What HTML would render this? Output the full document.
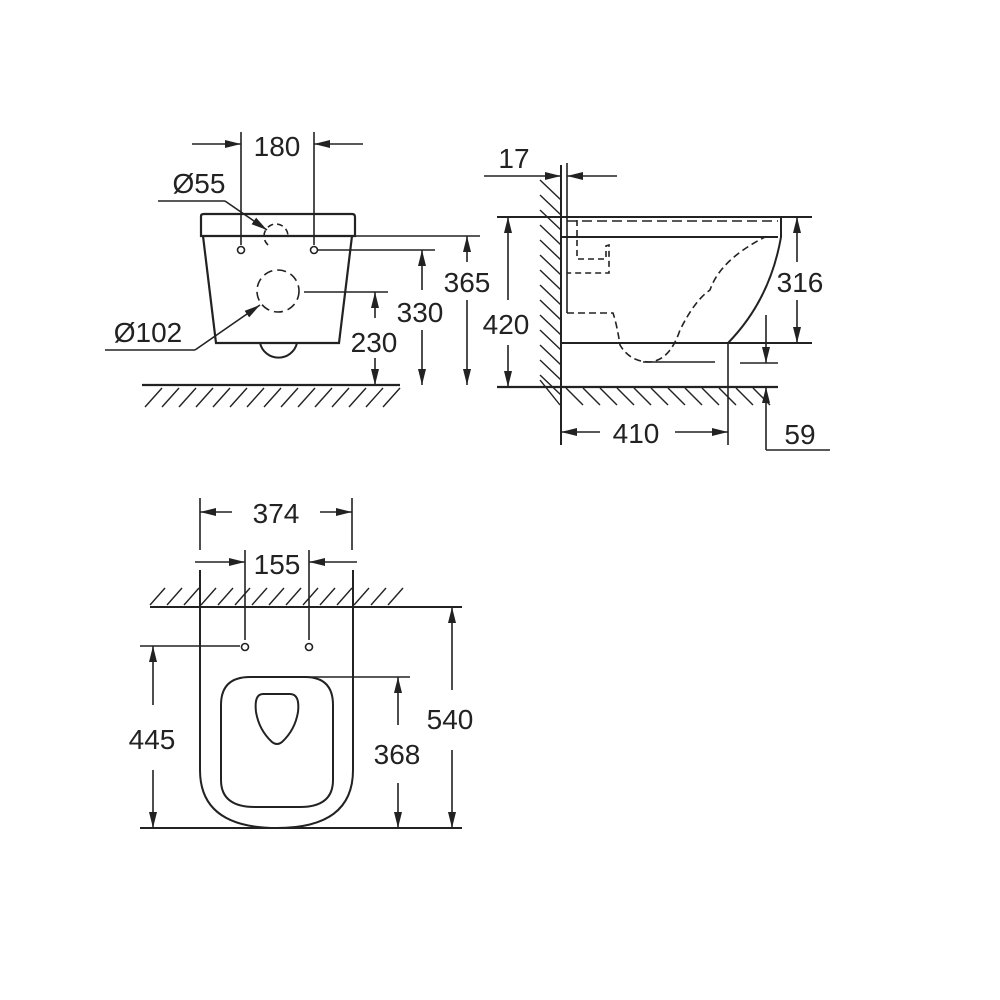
<!DOCTYPE html>
<html><head><meta charset="utf-8"><style>
html,body{margin:0;padding:0;background:#fff}
svg{display:block}
text{font-family:"Liberation Sans",sans-serif;font-size:28px;fill:#222;text-anchor:middle}
</style></head><body>
<svg width="1000" height="1000" viewBox="0 0 1000 1000" xmlns="http://www.w3.org/2000/svg">
<defs>
<marker id="a" viewBox="0 0 16 8" refX="16" refY="4" markerWidth="16" markerHeight="8" markerUnits="userSpaceOnUse" orient="auto"><path d="M0,0 L16,4 L0,8 z" fill="#222"/></marker>
</defs>
<g stroke="#222" stroke-width="1.6" fill="none">
<!-- VIEW 1 -->
<line x1="241" y1="132" x2="241" y2="245"/><line x1="314" y1="132" x2="314" y2="245"/>
<line x1="192" y1="144" x2="241" y2="144" marker-end="url(#a)"/>
<line x1="363" y1="144" x2="314" y2="144" marker-end="url(#a)"/>
<path d="M201,236 L201,216 Q201,214 204,214 L352,214 Q355,214 355,217 L355,236 Z" stroke-width="2.2"/>
<path d="M203,236 L216,343 L339,343 L352,236" stroke-width="2.2"/>
<path d="M260,343 A19,19 0 0 0 297,343" stroke-width="2"/>
<circle cx="241" cy="250" r="3.5"/><circle cx="314" cy="250" r="3.5"/>
<path d="M268,245 A12,12 0 1 1 288,236" stroke-dasharray="6,4"/>
<circle cx="278" cy="291" r="21" stroke-dasharray="9,5"/>
<line x1="158" y1="201" x2="225" y2="201"/><line x1="225" y1="201" x2="267" y2="230" marker-end="url(#a)"/>
<line x1="105" y1="350" x2="195" y2="350"/><line x1="195" y1="350" x2="260" y2="305" marker-end="url(#a)"/>
<line x1="355" y1="236" x2="480" y2="236"/>
<line x1="318" y1="250" x2="435" y2="250"/>
<line x1="304" y1="292" x2="388" y2="292"/>
<line x1="375" y1="318" x2="375" y2="292" marker-end="url(#a)"/>
<line x1="375" y1="358" x2="375" y2="385" marker-end="url(#a)"/>
<line x1="422" y1="290" x2="422" y2="250" marker-end="url(#a)"/>
<line x1="422" y1="330" x2="422" y2="385" marker-end="url(#a)"/>
<line x1="467" y1="262" x2="467" y2="236" marker-end="url(#a)"/>
<line x1="467" y1="300" x2="467" y2="385" marker-end="url(#a)"/>
<line x1="142" y1="385" x2="400" y2="385" stroke-width="2.2"/>
<g stroke-width="1.4">
<line x1="145" y1="407" x2="162" y2="388"/><line x1="162" y1="407" x2="179" y2="388"/><line x1="179" y1="407" x2="196" y2="388"/><line x1="196" y1="407" x2="213" y2="388"/><line x1="213" y1="407" x2="230" y2="388"/><line x1="230" y1="407" x2="247" y2="388"/><line x1="247" y1="407" x2="264" y2="388"/><line x1="264" y1="407" x2="281" y2="388"/><line x1="281" y1="407" x2="298" y2="388"/><line x1="298" y1="407" x2="315" y2="388"/><line x1="315" y1="407" x2="332" y2="388"/><line x1="332" y1="407" x2="349" y2="388"/><line x1="349" y1="407" x2="366" y2="388"/><line x1="366" y1="407" x2="383" y2="388"/><line x1="383" y1="407" x2="400" y2="388"/>
</g>
</g>
<text x="277" y="156">180</text>
<text x="199" y="193">Ø55</text>
<text x="148" y="342">Ø102</text>
<text x="374" y="352">230</text>
<text x="420" y="322">330</text>
<text x="467" y="292">365</text>

<!-- VIEW 2 -->
<g stroke="#222" stroke-width="1.6" fill="none">
<g stroke-width="1.4">
<line x1="540" y1="180" x2="561" y2="200"/><line x1="540" y1="195" x2="561" y2="215"/><line x1="540" y1="210" x2="561" y2="230"/><line x1="540" y1="225" x2="561" y2="245"/><line x1="540" y1="240" x2="561" y2="260"/><line x1="540" y1="255" x2="561" y2="275"/><line x1="540" y1="270" x2="561" y2="290"/><line x1="540" y1="285" x2="561" y2="305"/><line x1="540" y1="300" x2="561" y2="320"/><line x1="540" y1="315" x2="561" y2="335"/><line x1="540" y1="330" x2="561" y2="350"/><line x1="540" y1="345" x2="561" y2="365"/><line x1="540" y1="360" x2="561" y2="380"/><line x1="540" y1="375" x2="561" y2="395"/><line x1="540" y1="380" x2="560" y2="405"/>
<line x1="566" y1="388" x2="583" y2="405"/><line x1="583" y1="388" x2="600" y2="405"/><line x1="600" y1="388" x2="617" y2="405"/><line x1="617" y1="388" x2="634" y2="405"/><line x1="634" y1="388" x2="651" y2="405"/><line x1="651" y1="388" x2="668" y2="405"/><line x1="668" y1="388" x2="685" y2="405"/><line x1="685" y1="388" x2="702" y2="405"/><line x1="702" y1="388" x2="719" y2="405"/><line x1="719" y1="388" x2="736" y2="405"/><line x1="736" y1="388" x2="753" y2="405"/><line x1="753" y1="388" x2="770" y2="405"/>
</g>
<line x1="561" y1="165" x2="561" y2="445" stroke-width="2"/>
<line x1="567" y1="163" x2="567" y2="313"/>
<line x1="484" y1="176" x2="561" y2="176" marker-end="url(#a)"/>
<line x1="617" y1="176" x2="567" y2="176" marker-end="url(#a)"/>
<line x1="497" y1="217" x2="812" y2="217" stroke-width="2"/>
<line x1="567" y1="221" x2="778" y2="221" stroke-dasharray="10,5"/>
<line x1="561" y1="237" x2="778" y2="237" stroke-width="2"/>
<path d="M778,217 L781,217 L781,237 Q770,300 728,343" stroke-width="2"/>
<line x1="561" y1="343" x2="812" y2="343" stroke-width="2"/>
<line x1="728" y1="343" x2="728" y2="445"/>
<path d="M577,220 L577,259 L606,259 L606,246 L609,245 L609,273 L567,273" stroke-dasharray="6,4"/>
<path d="M567,313 L613,313 Q617,325 620,345 Q630,362 650,362 Q670,360 680,330 Q695,300 710,290 Q720,260 765,237" stroke-dasharray="7,4"/>
<line x1="643" y1="362" x2="715" y2="362"/><line x1="740" y1="363" x2="778" y2="363"/>
<line x1="497" y1="387" x2="778" y2="387" stroke-width="2.2"/>
<line x1="508" y1="300" x2="508" y2="217" marker-end="url(#a)"/>
<line x1="508" y1="345" x2="508" y2="387" marker-end="url(#a)"/>
<line x1="797" y1="262" x2="797" y2="217" marker-end="url(#a)"/>
<line x1="797" y1="300" x2="797" y2="343" marker-end="url(#a)"/>
<line x1="766" y1="315" x2="766" y2="363" marker-end="url(#a)"/>
<line x1="766" y1="450" x2="766" y2="387" marker-end="url(#a)"/>
<line x1="766" y1="450" x2="830" y2="450"/>
<line x1="600" y1="432" x2="561" y2="432" marker-end="url(#a)"/>
<line x1="675" y1="432" x2="728" y2="432" marker-end="url(#a)"/>
</g>
<text x="514" y="168">17</text>
<text x="506" y="334">420</text>
<text x="800" y="292">316</text>
<text x="636" y="443">410</text>
<text x="800" y="444">59</text>

<!-- VIEW 3 -->
<g stroke="#222" stroke-width="1.6" fill="none">
<line x1="200" y1="498" x2="200" y2="550"/><line x1="352" y1="498" x2="352" y2="550"/>
<line x1="232" y1="512" x2="200" y2="512" marker-end="url(#a)"/>
<line x1="320" y1="512" x2="352" y2="512" marker-end="url(#a)"/>
<line x1="245" y1="550" x2="245" y2="640"/><line x1="309" y1="550" x2="309" y2="640"/>
<line x1="195" y1="562" x2="245" y2="562" marker-end="url(#a)"/>
<line x1="357" y1="562" x2="309" y2="562" marker-end="url(#a)"/>
<g stroke-width="1.4">
<line x1="150" y1="605" x2="165" y2="588"/><line x1="167" y1="605" x2="182" y2="588"/><line x1="184" y1="605" x2="199" y2="588"/><line x1="201" y1="605" x2="216" y2="588"/><line x1="218" y1="605" x2="233" y2="588"/><line x1="235" y1="605" x2="250" y2="588"/><line x1="252" y1="605" x2="267" y2="588"/><line x1="269" y1="605" x2="284" y2="588"/><line x1="286" y1="605" x2="301" y2="588"/><line x1="303" y1="605" x2="318" y2="588"/><line x1="320" y1="605" x2="335" y2="588"/><line x1="337" y1="605" x2="352" y2="588"/><line x1="354" y1="605" x2="369" y2="588"/><line x1="371" y1="605" x2="386" y2="588"/><line x1="388" y1="605" x2="403" y2="588"/>
</g>
<line x1="150" y1="607" x2="462" y2="607" stroke-width="2"/>
<path d="M200,570 L200,770 Q200,828 277,828 Q353,828 353,770 L353,570" stroke-width="2"/>
<circle cx="245" cy="647" r="3.5"/><circle cx="309" cy="647" r="3.5"/>
<line x1="140" y1="646" x2="240" y2="646"/>
<path d="M250,677 L305,677 Q333,677 333,705 L333,780 Q333,807 300,807 L255,807 Q221,807 221,780 L221,705 Q221,677 250,677 Z" stroke-width="2"/>
<path d="M263,694 L290,694 Q300,694 298,712 Q295,730 282,742 Q277,746 272,742 Q259,730 256,712 Q254,694 263,694 Z" stroke-width="2"/>
<line x1="300" y1="677" x2="410" y2="677"/>
<line x1="140" y1="828" x2="462" y2="828" stroke-width="2"/>
<line x1="153" y1="705" x2="153" y2="646" marker-end="url(#a)"/>
<line x1="153" y1="770" x2="153" y2="828" marker-end="url(#a)"/>
<line x1="398" y1="725" x2="398" y2="677" marker-end="url(#a)"/>
<line x1="398" y1="783" x2="398" y2="828" marker-end="url(#a)"/>
<line x1="452" y1="690" x2="452" y2="607" marker-end="url(#a)"/>
<line x1="452" y1="750" x2="452" y2="828" marker-end="url(#a)"/>
</g>
<text x="276" y="523">374</text>
<text x="277" y="574">155</text>
<text x="152" y="749">445</text>
<text x="397" y="764">368</text>
<text x="450" y="729">540</text>
</svg>
</body></html>
